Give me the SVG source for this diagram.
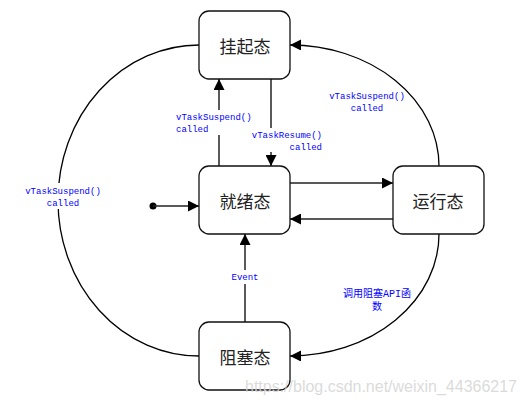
<svg xmlns="http://www.w3.org/2000/svg" width="526" height="404" viewBox="0 0 526 404">
<style>
.box{fill:#fff;stroke:#111;stroke-width:1.3}
.st{font-family:"Noto Sans CJK SC","Liberation Serif",sans-serif;font-size:17px;fill:#222;text-anchor:middle;dominant-baseline:central}
.ln{fill:none;stroke:#222;stroke-width:1.5}
.arc{fill:none;stroke:#000;stroke-width:1.3}
.lb{font-family:"Liberation Mono","Noto Sans CJK SC",monospace;font-size:9px;fill:#0000ff}
.lbc{font-family:"Liberation Mono","Noto Sans CJK SC",monospace;font-size:10px;fill:#0000ff;text-anchor:middle}
.bg{fill:#fff}
</style>
<defs>
<marker id="ah" viewBox="0 0 10 10" refX="10" refY="5" markerWidth="11" markerHeight="11" markerUnits="userSpaceOnUse" orient="auto">
<path d="M0,0 L10,5 L0,10 z" fill="#000"/>
</marker>
</defs>
<rect width="526" height="404" fill="#fff"/>
<g id="connectors">
<path class="arc" d="M199,45 A141,155.5 0 0 0 199,356"/>
<path class="arc" d="M439,166 A149,121 0 0 0 290,45" marker-end="url(#ah)"/>
<path class="arc" d="M439,234 A149,122 0 0 1 290,356" marker-end="url(#ah)"/>
<line class="ln" x1="219" y1="166" x2="219" y2="79" marker-end="url(#ah)"/>
<line class="ln" x1="271" y1="79" x2="271" y2="166" marker-end="url(#ah)"/>
<line class="ln" x1="290" y1="183" x2="393" y2="183" marker-end="url(#ah)"/>
<line class="ln" x1="393" y1="219" x2="290" y2="219" marker-end="url(#ah)"/>
<line class="ln" x1="245" y1="322" x2="245" y2="234" marker-end="url(#ah)"/>
<circle cx="153" cy="206" r="3.5" fill="#000"/>
<line class="ln" x1="153" y1="206" x2="199" y2="206" marker-end="url(#ah)"/>
<rect class="bg" x="24" y="183" width="80" height="26"/>
<text class="lb" x="63" y="194" text-anchor="middle">vTaskSuspend()</text>
<text class="lb" x="63" y="206" text-anchor="middle">called</text>
<text class="lb" x="367" y="99" text-anchor="middle">vTaskSuspend()</text>
<text class="lb" x="367" y="111" text-anchor="middle">called</text>
<rect class="bg" x="175" y="110" width="78" height="25"/>
<text class="lb" x="176" y="120">vTaskSuspend()</text>
<text class="lb" x="176" y="132">called</text>
<rect class="bg" x="249" y="128" width="74" height="24"/>
<text class="lb" x="322" y="138" text-anchor="end">vTaskResume()</text>
<text class="lb" x="322" y="150" text-anchor="end">called</text>
<rect class="bg" x="229" y="270" width="32" height="14"/>
<text class="lb" x="245" y="280" text-anchor="middle">Event</text>
<text class="lbc" x="377" y="297">调用阻塞API函</text>
<text class="lbc" x="377" y="310">数</text>
</g>
<g id="suspended"><rect class="box" x="199" y="11" width="91" height="68" rx="10"/><text class="st" x="245" y="45">挂起态</text></g>
<g id="ready"><rect class="box" x="199" y="166" width="91" height="68" rx="10"/><text class="st" x="245" y="200">就绪态</text></g>
<g id="running"><rect class="box" x="393" y="166" width="91" height="68" rx="10"/><text class="st" x="438" y="200">运行态</text></g>
<g id="blocked"><rect class="box" x="199" y="322" width="91" height="68" rx="10"/><text class="st" x="245" y="356">阻塞态</text></g>
<text x="517" y="392" text-anchor="end" font-family="Liberation Sans, Arial, sans-serif" font-size="16" fill="#d4d4d4" fill-opacity="0.85" textLength="272" lengthAdjust="spacingAndGlyphs">https://blog.csdn.net/weixin_44366217</text>
</svg>
